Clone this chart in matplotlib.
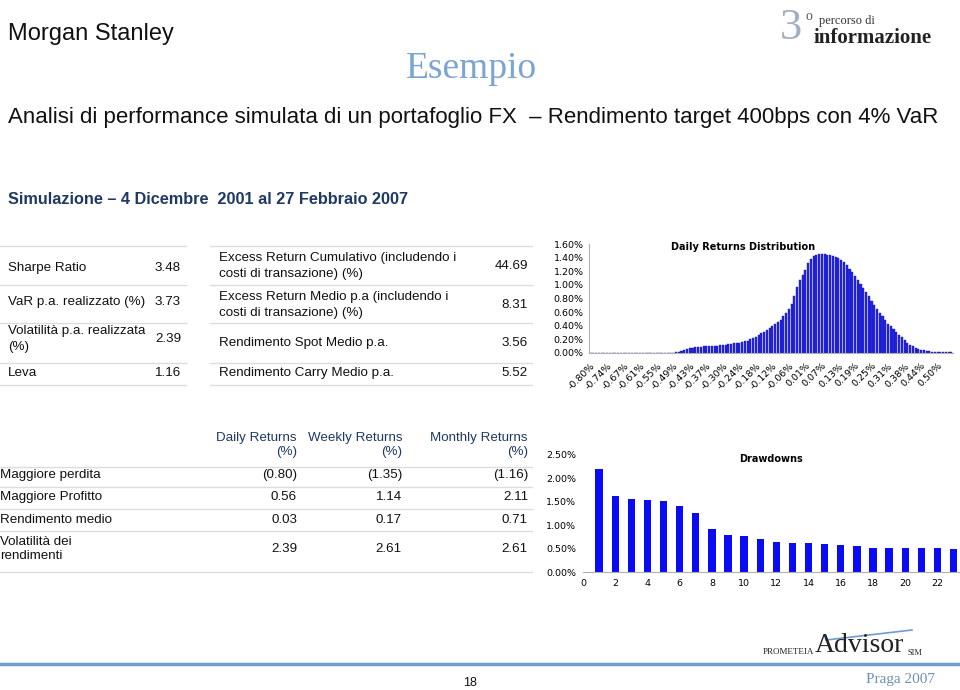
import matplotlib
matplotlib.use("Agg")
import matplotlib.pyplot as plt
import numpy as np

W, H = 960, 690

# ---- data ----
left_labels = ["Sharpe Ratio", "VaR p.a. realizzato (%)", "Volatilità p.a. realizzata\n(%)", "Leva"]
left_values = ["3.48", "3.73", "2.39", "1.16"]
right_labels = ["Excess Return Cumulativo (includendo i\ncosti di transazione) (%)",
                "Excess Return Medio p.a (includendo i\ncosti di transazione) (%)",
                "Rendimento Spot Medio p.a.",
                "Rendimento Carry Medio p.a."]
right_values = ["44.69", "8.31", "3.56", "5.52"]

ret_headers = ["Daily Returns\n(%)", "Weekly Returns\n(%)", "Monthly Returns\n(%)"]
ret_rows = ["Maggiore perdita", "Maggiore Profitto", "Rendimento medio", "Volatilità dei\nrendimenti"]
ret_daily = ["(0.80)", "0.56", "0.03", "2.39"]
ret_weekly = ["(1.35)", "1.14", "0.17", "2.61"]
ret_monthly = ["(1.16)", "2.11", "0.71", "2.61"]

# daily returns distribution, % of days per bin (132 bins, label every 6th)
dist_ticklabels = ["-0.80%", "-0.74%", "-0.67%", "-0.61%", "-0.55%", "-0.49%", "-0.43%", "-0.37%",
                   "-0.30%", "-0.24%", "-0.18%", "-0.12%", "-0.06%", "0.01%", "0.07%", "0.13%",
                   "0.19%", "0.25%", "0.31%", "0.38%", "0.44%", "0.50%"]
dist_values = [0.0] * 31 + [
    0.015, 0.02, 0.03, 0.04, 0.06, 0.07, 0.08, 0.085, 0.09,                 # 31-39
    0.095, 0.10, 0.10, 0.10, 0.105, 0.11, 0.11, 0.115, 0.12, 0.12,          # 40-49
    0.125, 0.13, 0.14, 0.145, 0.15, 0.16, 0.17, 0.18, 0.20, 0.22,           # 50-59
    0.24, 0.26, 0.29, 0.31, 0.34, 0.36, 0.39, 0.42, 0.45, 0.49,             # 60-69
    0.54, 0.59, 0.64, 0.72, 0.84, 0.97, 1.07, 1.15, 1.22, 1.32,             # 70-79
    1.38, 1.42, 1.44, 1.45, 1.45, 1.45, 1.44, 1.44, 1.43, 1.41,             # 80-89
    1.39, 1.36, 1.33, 1.29, 1.24, 1.19, 1.13, 1.07, 1.01, 0.95,             # 90-99
    0.89, 0.83, 0.77, 0.70, 0.65, 0.59, 0.54, 0.48, 0.43, 0.39,             # 100-109
    0.35, 0.31, 0.27, 0.23, 0.19, 0.15, 0.12, 0.10, 0.08, 0.06,             # 110-119
    0.05, 0.04, 0.03, 0.025, 0.02, 0.02, 0.015, 0.015, 0.01, 0.01,          # 120-129
    0.01, 0.01]                                                              # 130-131

dd_index = list(range(1, 24))
dd_values = [2.21, 1.62, 1.56, 1.53, 1.51, 1.41, 1.26, 0.91, 0.79, 0.76, 0.71, 0.64,
             0.61, 0.61, 0.60, 0.57, 0.56, 0.52, 0.52, 0.52, 0.51, 0.51, 0.49]

SANS = ["Liberation Sans", "DejaVu Sans"]
SERIF = ["Liberation Serif", "DejaVu Serif"]
CHART = ["DejaVu Sans"]
FS = 9.6

fig = plt.figure(figsize=(W / 100, H / 100), dpi=100)
fig.patch.set_facecolor("white")


def fx(x):
    return x / W


def fy(y):
    return 1 - y / H


def txt(x, y, s, **kw):
    kw.setdefault("family", SANS)
    kw.setdefault("va", "center")
    fig.text(fx(x), fy(y), s, **kw)


def hline(y, x0, x1, color="#dcdcdc", lw=1.0):
    fig.add_artist(plt.Line2D([fx(x0), fx(x1)], [fy(y), fy(y)], color=color, lw=lw,
                              transform=fig.transFigure))


# ---- header ----
txt(8, 34, "Morgan Stanley", fontsize=17, color="#111111")
txt(780, 28, "3", family=SERIF, fontsize=32, color="#9fb0c4")
txt(805, 16, "o", family=SERIF, fontsize=10, color="#555555")
txt(819, 21, "percorso di", family=SERIF, fontsize=9, color="#333333")
txt(814, 38, "informazione", family=SERIF, fontsize=15, fontweight="bold", color="#222222")
txt(471, 69, "Esempio", family=SERIF, fontsize=27, color="#7ba3d3", ha="center")
txt(8, 117, "Analisi di performance simulata di un portafoglio FX  \u2013 Rendimento target 400bps con 4% VaR",
    fontsize=16, color="#111111")
txt(8, 199, "Simulazione \u2013 4 Dicembre  2001 al 27 Febbraio 2007",
    fontsize=11.7, fontweight="bold", color="#1f3864")

# ---- top tables ----
for y in [246, 285, 323, 363, 385]:
    hline(y, 0, 186)
    hline(y, 210, 532)
left_y = [268, 302, 339, 373]
right_y = [266, 305, 343, 373]
for lab, val, y in zip(left_labels, left_values, left_y):
    txt(8, y, lab, fontsize=FS, color="#111111", linespacing=1.35)
    txt(181, y, val, fontsize=FS, color="#111111", ha="right")
for lab, val, y in zip(right_labels, right_values, right_y):
    txt(219, y, lab, fontsize=FS, color="#111111", linespacing=1.35)
    txt(528, y, val, fontsize=FS, color="#111111", ha="right")

# ---- returns table ----
for y in [467, 487, 509, 531, 572]:
    hline(y, 0, 532)
col_x = [297, 402, 528]
for hx, hd in zip(col_x, ret_headers):
    txt(hx, 445, hd, fontsize=FS, color="#1f3864", ha="right", multialignment="right",
        linespacing=1.3)
row_y = [475, 497, 520, 549]
for i, (lab, y) in enumerate(zip(ret_rows, row_y)):
    txt(0, y, lab, fontsize=FS, color="#111111", linespacing=1.3)
    for hx, col in zip(col_x, [ret_daily, ret_weekly, ret_monthly]):
        txt(hx, y, col[i], fontsize=FS, color="#111111", ha="right")

# ---- daily returns distribution ----
ax1 = fig.add_axes([fx(589), fy(353), (953 - 589) / W, (353 - 244) / H])
idx = np.arange(len(dist_values))
ax1.bar(idx, dist_values, width=0.75, color="#2323e8", edgecolor="#1a1a9a", linewidth=0.3)
ax1.set_xlim(-0.6, len(dist_values) - 0.4)
ax1.set_ylim(0, 1.6)
ax1.set_yticks(np.arange(0, 1.61, 0.2))
ax1.set_yticklabels([f"{v:.2f}%" for v in np.arange(0, 1.61, 0.2)], fontsize=6.8, family=CHART)
ax1.set_xticks(idx[::6])
ax1.set_xticklabels(dist_ticklabels, rotation=45, ha="right", rotation_mode="anchor",
                    fontsize=6.8, family=CHART)
ax1.tick_params(axis="y", length=0, pad=4)
ax1.tick_params(axis="x", length=0, pad=6)
for s in ["top", "right"]:
    ax1.spines[s].set_visible(False)
for s in ["left", "bottom"]:
    ax1.spines[s].set_color("#b0b0b0")
    ax1.spines[s].set_linewidth(0.8)
ax1.patch.set_alpha(0)
ax1.text(0.423, 0.97, "Daily Returns Distribution", transform=ax1.transAxes, ha="center",
         va="center", fontsize=7, fontweight="bold", family=CHART)

# ---- drawdowns ----
ax2 = fig.add_axes([fx(583), fy(572), (960 - 583) / W, (572 - 455) / H])
ax2.bar(dd_index, dd_values, width=0.45, color="#0a0af5")
ax2.set_xlim(0, 23.4)
ax2.set_ylim(0, 2.5)
ax2.set_yticks(np.arange(0, 2.51, 0.5))
ax2.set_yticklabels([f"{v:.2f}%" for v in np.arange(0, 2.51, 0.5)], fontsize=6.8, family=CHART)
ax2.set_xticks(range(0, 23, 2))
ax2.set_xticklabels([str(v) for v in range(0, 23, 2)], fontsize=6.8, family=CHART)
ax2.tick_params(length=0, pad=5)
for s in ["top", "right", "left"]:
    ax2.spines[s].set_visible(False)
ax2.spines["bottom"].set_color("#b0b0b0")
ax2.spines["bottom"].set_linewidth(0.8)
ax2.patch.set_alpha(0)
ax2.text(0.50, 0.97, "Drawdowns", transform=ax2.transAxes, ha="center", va="center",
         fontsize=7, fontweight="bold", family=CHART)

# ---- footer ----
hline(664, 0, 960, color="#6f9ccb", lw=2.5)
txt(470, 683, "18", fontsize=9, color="#111111", ha="center")
txt(763, 652, "PROMETEIA", family=SERIF, fontsize=6.5, color="#222222")
txt(815, 646, "Advisor", family=SERIF, fontsize=20, color="#222222")
txt(907, 653, "SIM", family=SERIF, fontsize=6, color="#222222")
fig.add_artist(plt.Line2D([fx(826), fx(912)], [fy(640), fy(630)], color="#6f9ccb", lw=1.2,
                          transform=fig.transFigure))
txt(866, 679, "Praga 2007", family=SERIF, fontsize=11, color="#6f8fb3")

fig.savefig("out.png", dpi=100)
